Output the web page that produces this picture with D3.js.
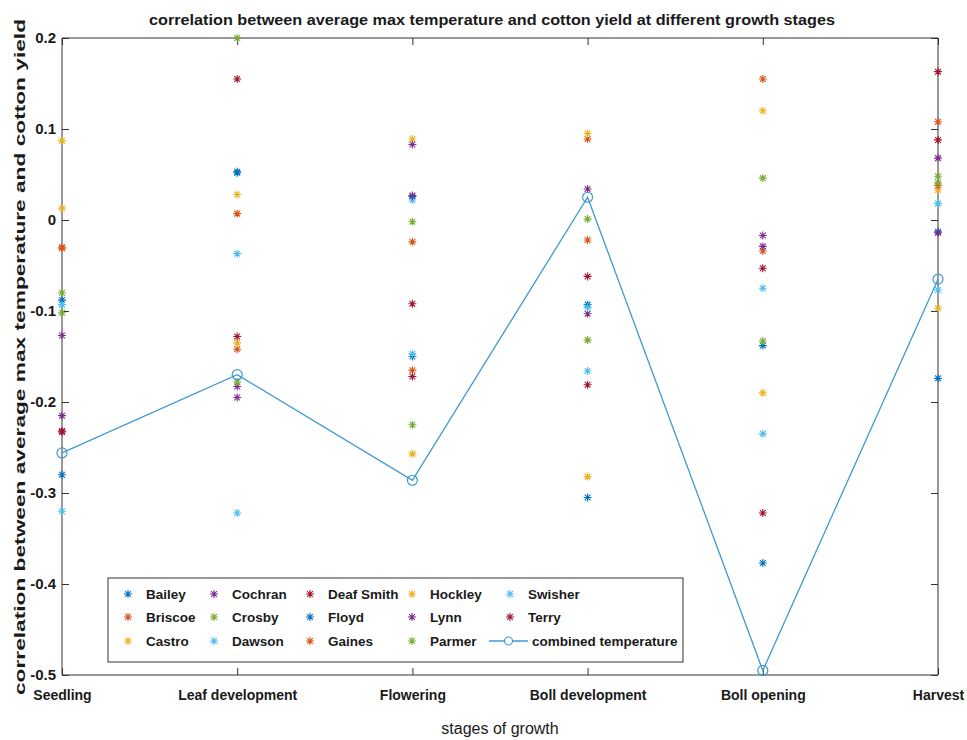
<!DOCTYPE html>
<html>
<head>
<meta charset="utf-8">
<script src="https://cdn.jsdelivr.net/npm/d3@7"></script>
<style>
  body { margin: 0; background: #fff; }
  text { font-family: "Liberation Sans", Arial, sans-serif; fill: #1a1a1a; }
</style>
</head>
<body>
<div id="chart"></div>
<script>
const stages = ["Seedling", "Leaf development", "Flowering", "Boll development", "Boll opening", "Harvest"];
const counties = ["Bailey", "Briscoe", "Castro", "Cochran", "Crosby", "Dawson", "Deaf Smith",
  "Floyd", "Gaines", "Hockley", "Lynn", "Parmer", "Swisher", "Terry"];

// one value per county, same order as counties
const seedling = [-0.088, -0.030, 0.087, -0.127, -0.080, -0.093, -0.232, -0.280, -0.031, 0.013, -0.215, -0.102, -0.320, -0.233];
const leafDev = [0.053, 0.007, 0.028, -0.195, 0.200, -0.037, 0.155, 0.052, -0.142, -0.135, -0.183, -0.178, -0.322, -0.128];
const flowering = [-0.150, -0.024, 0.089, 0.083, -0.002, 0.022, -0.092, 0.026, -0.165, -0.257, 0.027, -0.225, -0.147, -0.172];
const bollDev = [-0.093, 0.089, 0.095, 0.034, 0.001, -0.166, -0.062, -0.305, -0.022, -0.282, -0.103, -0.132, -0.096, -0.181];
const bollOpening = [-0.138, 0.155, 0.120, -0.017, 0.046, -0.075, -0.053, -0.377, -0.034, -0.190, -0.029, -0.133, -0.235, -0.322];
const harvest = [-0.174, 0.108, 0.033, 0.068, 0.048, 0.018, 0.163, -0.013, 0.038, -0.097, -0.014, 0.041, -0.077, 0.088];
const combined = [-0.256, -0.170, -0.286, 0.025, -0.495, -0.065];
const yTicks = [0.2, 0.1, 0, -0.1, -0.2, -0.3, -0.4, -0.5];

const stageValues = [seedling, leafDev, flowering, bollDev, bollOpening, harvest];

const palette = ["#0072BD", "#D95319", "#EDB120", "#7E2F8E", "#77AC30", "#4DBEEE", "#A2142F"];
const lineColor = "#3f9ad0";

const W = 967, H = 740;
const margin = { top: 38, right: 29, bottom: 65, left: 62 };

const svg = d3.select("#chart").append("svg")
  .attr("width", W).attr("height", H);

const x = d3.scalePoint().domain(stages).range([margin.left, W - margin.right]);
const y = d3.scaleLinear().domain([-0.5, 0.2]).range([H - margin.bottom, margin.top]);
const color = d3.scaleOrdinal().domain(counties).range(palette);

const x0 = margin.left, x1 = W - margin.right, y0 = margin.top, y1 = H - margin.bottom;

// box
svg.append("line").attr("x1", x0).attr("x2", x1).attr("y1", y0).attr("y2", y0)
  .attr("stroke", "#333").attr("stroke-width", 1.2);
svg.append("line").attr("x1", x0).attr("x2", x1).attr("y1", y1).attr("y2", y1)
  .attr("stroke", "#333").attr("stroke-width", 1.2);
svg.append("line").attr("x1", x0).attr("x2", x0).attr("y1", y0).attr("y2", y1)
  .attr("stroke", "#999").attr("stroke-width", 2);
svg.append("line").attr("x1", x1).attr("x2", x1).attr("y1", y0).attr("y2", y1)
  .attr("stroke", "#999").attr("stroke-width", 2);

// axes with inward ticks
const fmt = d => d === 0 ? "0" : String(+d.toFixed(1));
const gy = svg.append("g").attr("transform", `translate(${x0},0)`)
  .call(d3.axisLeft(y).tickValues(yTicks).tickFormat(fmt).tickSizeInner(-7).tickSizeOuter(0).tickPadding(6));
const gyr = svg.append("g").attr("transform", `translate(${x1},0)`)
  .call(d3.axisRight(y).tickValues(yTicks).tickFormat("").tickSizeInner(-7).tickSizeOuter(0));
const gx = svg.append("g").attr("transform", `translate(0,${y1})`)
  .call(d3.axisBottom(x).tickSizeInner(-7).tickSizeOuter(0).tickPadding(15));
const gxt = svg.append("g").attr("transform", `translate(0,${y0})`)
  .call(d3.axisTop(x).tickFormat("").tickSizeInner(-7).tickSizeOuter(0));

[gy, gyr, gx, gxt].forEach(g => {
  g.select(".domain").remove();
  g.selectAll(".tick line").attr("stroke", "#333");
});
gy.selectAll(".tick text").attr("font-size", 15).attr("font-weight", "bold").attr("fill", "#1a1a1a");
gx.selectAll(".tick text").attr("font-size", 14).attr("font-weight", "bold").attr("fill", "#1a1a1a");

// asterisk marker like matlab '*'
const star = (r) => `M${-r},0L${r},0M0,${-r}L0,${r}M${-r * 0.72},${-r * 0.72}L${r * 0.72},${r * 0.72}M${-r * 0.72},${r * 0.72}L${r * 0.72},${-r * 0.72}`;

const points = [];
stageValues.forEach((vals, si) => {
  vals.forEach((v, ci) => points.push({ stage: stages[si], county: counties[ci], value: v }));
});

svg.append("g").selectAll("path")
  .data(points)
  .join("path")
  .attr("transform", d => `translate(${x(d.stage)},${y(d.value)})`)
  .attr("d", star(4))
  .attr("fill", "none")
  .attr("stroke", d => color(d.county))
  .attr("stroke-width", 1.1);

// combined temperature line
const comb = stages.map((s, i) => ({ stage: s, value: combined[i] }));
svg.append("path")
  .datum(comb)
  .attr("d", d3.line().x(d => x(d.stage)).y(d => y(d.value)))
  .attr("fill", "none")
  .attr("stroke", lineColor)
  .attr("stroke-width", 1.3);
svg.append("g").selectAll("circle")
  .data(comb)
  .join("circle")
  .attr("cx", d => x(d.stage))
  .attr("cy", d => y(d.value))
  .attr("r", 5)
  .attr("fill", "none")
  .attr("stroke", lineColor)
  .attr("stroke-width", 1.2);

// legend
const legend = svg.append("g");
legend.append("rect")
  .attr("x", 108).attr("y", 578).attr("width", 575).attr("height", 84)
  .attr("fill", "#fff").attr("stroke", "#333").attr("stroke-width", 1);

const colX = [128, 214, 310, 412, 510];
const rowY = [594, 617, 641];
counties.forEach((c, i) => {
  const cx = colX[Math.floor(i / 3)], cy = rowY[i % 3];
  legend.append("path")
    .attr("transform", `translate(${cx},${cy})`)
    .attr("d", star(4))
    .attr("fill", "none")
    .attr("stroke", color(c))
    .attr("stroke-width", 1.1);
  legend.append("text")
    .attr("x", cx + 18).attr("y", cy + 5)
    .attr("font-size", 13.5).attr("font-weight", "bold")
    .text(c);
});
const ly = rowY[2];
legend.append("line").attr("x1", 489).attr("x2", 528).attr("y1", ly).attr("y2", ly)
  .attr("stroke", lineColor).attr("stroke-width", 1.3);
legend.append("circle").attr("cx", 508.5).attr("cy", ly).attr("r", 4)
  .attr("fill", "#fff").attr("stroke", lineColor).attr("stroke-width", 1.2);
legend.append("text")
  .attr("x", 532).attr("y", ly + 5)
  .attr("font-size", 13.5).attr("font-weight", "bold")
  .text("combined temperature");

// title and axis labels
svg.append("text")
  .attr("x", (x0 + x1) / 2 - 8).attr("y", 25)
  .attr("text-anchor", "middle")
  .attr("font-size", 15).attr("font-weight", "bold")
  .attr("textLength", 686).attr("lengthAdjust", "spacingAndGlyphs")
  .text("correlation between average max temperature  and cotton yield at different growth stages");

svg.append("text")
  .attr("transform", `translate(25,${357}) rotate(-90)`)
  .attr("text-anchor", "middle")
  .attr("font-size", 15).attr("font-weight", "bold")
  .attr("textLength", 676).attr("lengthAdjust", "spacingAndGlyphs")
  .text("correlation between average max temperature and cotton yield");

svg.append("text")
  .attr("x", 500).attr("y", 734)
  .attr("text-anchor", "middle")
  .attr("font-size", 16)
  .text("stages of growth");
</script>
</body>
</html>
